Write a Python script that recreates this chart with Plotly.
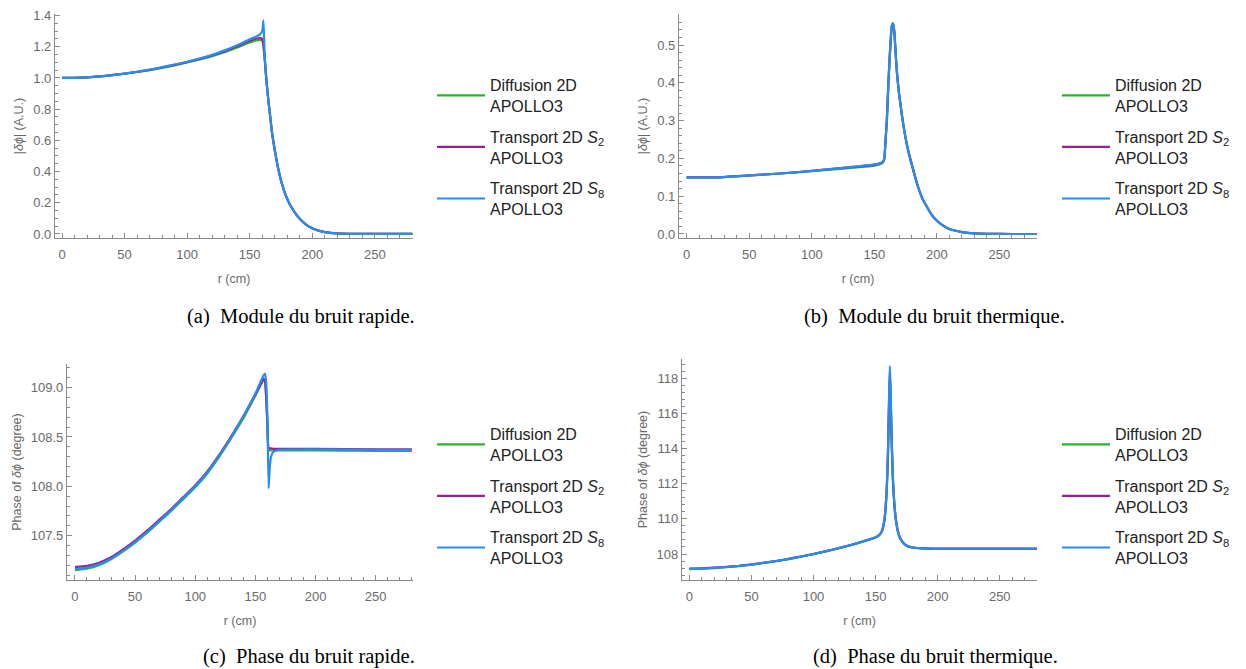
import plotly.graph_objects as go

# ---------------- data ----------------
names = ["Diffusion 2D<br>APOLLO3",
         "Transport 2D <i>S</i><sub>2</sub><br>APOLLO3",
         "Transport 2D <i>S</i><sub>8</sub><br>APOLLO3"]
colors = ["rgb(45,180,45)", "rgb(150,35,150)", "rgb(40,140,240)"]

# (a) fast noise magnitude
r_a = [0, 10, 20, 30, 40, 50, 60, 70, 80, 90, 100, 110, 120, 130, 140, 150, 155, 158, 160,
       161, 162, 163, 164, 165, 166, 168, 170, 172, 174, 176, 178, 180, 182, 185, 190, 195,
       200, 205, 210, 220, 230, 240, 260, 280]
a_diff = [1.0, 1.001, 1.004, 1.01, 1.018, 1.027, 1.038, 1.05, 1.065, 1.081, 1.099, 1.118, 1.14,
          1.165, 1.195, 1.228, 1.240, 1.244, 1.238,
          1.2, 1.12, 1.02, 0.93, 0.85, 0.78, 0.64, 0.54, 0.45, 0.375, 0.315, 0.265, 0.225, 0.19,
          0.15, 0.097, 0.06, 0.036, 0.021, 0.012, 0.004, 0.001, 0.0, 0.0, 0.0]
a_s2 = [1.0, 1.001, 1.004, 1.01, 1.018, 1.028, 1.039, 1.052, 1.067, 1.084, 1.102, 1.122, 1.145,
        1.172, 1.203, 1.238, 1.251, 1.256, 1.252,
        1.21, 1.13, 1.02, 0.93, 0.85, 0.78, 0.64, 0.54, 0.45, 0.375, 0.315, 0.265, 0.225, 0.19,
        0.15, 0.097, 0.06, 0.036, 0.021, 0.012, 0.004, 0.001, 0.0, 0.0, 0.0]
a_s8 = [1.0, 1.001, 1.004, 1.01, 1.018, 1.028, 1.04, 1.053, 1.069, 1.086, 1.104, 1.125, 1.148,
        1.177, 1.21, 1.248, 1.264, 1.278, 1.30,
        1.37, 1.13, 1.02, 0.93, 0.85, 0.78, 0.64, 0.54, 0.45, 0.375, 0.315, 0.265, 0.225, 0.19,
        0.15, 0.097, 0.06, 0.036, 0.021, 0.012, 0.004, 0.001, 0.0, 0.0, 0.0]

# (b) thermal noise magnitude
r_b = [0, 25, 50, 75, 100, 125, 150, 155, 157, 158, 159, 160, 161, 162, 163, 164, 165, 166, 167,
       168, 169, 170, 171, 172, 174, 176, 178, 180, 184, 188, 192, 196, 200, 205, 210, 220, 230,
       240, 260, 280]
b_diff = [0.15, 0.15, 0.155, 0.16, 0.166, 0.173, 0.181, 0.185, 0.19, 0.2, 0.25, 0.3, 0.38, 0.45,
          0.51, 0.548, 0.555, 0.533, 0.48, 0.43, 0.395, 0.365, 0.34, 0.315, 0.272, 0.237, 0.208,
          0.183, 0.135, 0.097, 0.072, 0.05, 0.035, 0.022, 0.013, 0.005, 0.0015, 0.0005, 0.0, 0.0]
b_s2 = [0.15, 0.15, 0.155, 0.16, 0.167, 0.175, 0.183, 0.187, 0.191, 0.2, 0.25, 0.3, 0.38, 0.45,
        0.51, 0.55, 0.557, 0.535, 0.48, 0.43, 0.395, 0.365, 0.34, 0.315, 0.272, 0.237, 0.208,
        0.183, 0.135, 0.097, 0.072, 0.05, 0.035, 0.022, 0.013, 0.005, 0.0015, 0.0005, 0.0, 0.0]
b_s8 = [0.15, 0.15, 0.155, 0.16, 0.167, 0.175, 0.184, 0.188, 0.192, 0.2, 0.25, 0.3, 0.38, 0.45,
        0.51, 0.552, 0.558, 0.536, 0.48, 0.43, 0.395, 0.365, 0.34, 0.315, 0.272, 0.237, 0.208,
        0.183, 0.135, 0.097, 0.072, 0.05, 0.035, 0.022, 0.013, 0.005, 0.0015, 0.0005, 0.0, 0.0]

# (c) fast noise phase
r_c = [0, 10, 20, 30, 40, 50, 60, 70, 80, 90, 100, 110, 120, 130, 140, 150, 155, 157, 158, 159,
       160, 161, 162, 163, 165, 170, 200, 250, 280]
c_diff = [107.15, 107.165, 107.2, 107.26, 107.34, 107.43, 107.53, 107.64, 107.75, 107.87, 107.99,
          108.13, 108.3, 108.49, 108.69, 108.92, 109.04, 109.08, 109.06, 108.88, 108.6, 108.37,
          108.365, 108.365, 108.365, 108.365, 108.365, 108.36, 108.36]
c_s2 = [107.18, 107.193, 107.225, 107.28, 107.36, 107.45, 107.55, 107.66, 107.77, 107.89, 108.01,
        108.15, 108.32, 108.51, 108.71, 108.93, 109.05, 109.09, 109.07, 108.9, 108.62, 108.385,
        108.385, 108.385, 108.38, 108.38, 108.38, 108.375, 108.375]
c_s8 = [107.16, 107.175, 107.21, 107.265, 107.345, 107.435, 107.535, 107.645, 107.76, 107.88,
        108.0, 108.14, 108.31, 108.5, 108.71, 108.94, 109.08, 109.13, 109.14, 109.05, 108.7,
        107.98, 108.2, 108.3, 108.35, 108.37, 108.375, 108.37, 108.37]

# (d) thermal noise phase
r_d = [0, 10, 20, 30, 40, 50, 60, 70, 80, 90, 100, 110, 120, 130, 140, 150, 153, 155, 157, 158,
       159, 160, 161, 161.5, 162, 163, 164, 165, 166, 168, 170, 173, 176, 180, 190, 200, 250, 280]
d_diff = [107.14, 107.16, 107.2, 107.25, 107.31, 107.39, 107.49, 107.59, 107.71, 107.85, 107.99,
          108.15, 108.32, 108.5, 108.71, 108.94, 109.08, 109.28, 109.85, 110.5, 111.6, 113.6,
          116.9, 118.0, 117.0, 114.2, 112.1, 110.9, 110.1, 109.25, 108.85, 108.57, 108.43,
          108.36, 108.31, 108.3, 108.3, 108.3]
d_s2 = [107.17, 107.18, 107.22, 107.27, 107.33, 107.41, 107.5, 107.6, 107.72, 107.86, 108.0,
        108.16, 108.33, 108.51, 108.72, 108.95, 109.09, 109.29, 109.87, 110.55, 111.7, 113.8,
        117.2, 118.3, 117.3, 114.4, 112.2, 110.95, 110.15, 109.28, 108.87, 108.58, 108.44,
        108.37, 108.32, 108.31, 108.31, 108.31]
d_s8 = [107.15, 107.17, 107.21, 107.26, 107.32, 107.4, 107.5, 107.6, 107.72, 107.86, 108.0,
        108.16, 108.33, 108.51, 108.72, 108.95, 109.1, 109.3, 109.9, 110.6, 111.8, 114.0,
        117.5, 118.7, 117.6, 114.5, 112.3, 111.0, 110.2, 109.3, 108.9, 108.6, 108.45,
        108.37, 108.32, 108.3, 108.3, 108.3]

captions = ["(a)  Module du bruit rapide.", "(b)  Module du bruit thermique.",
            "(c)  Phase du bruit rapide.", "(d)  Phase du bruit thermique."]
ytitles = ["|<i>δϕ</i>| (A.U.)", "|<i>δϕ</i>| (A.U.)",
           "Phase of <i>δϕ</i> (degree)", "Phase of <i>δϕ</i> (degree)"]

# ---------------- figure ----------------
W, H = 1246, 669
fig = go.Figure()

panels = [
    dict(r=r_a, ys=[a_diff, a_s2, a_s8]),
    dict(r=r_b, ys=[b_diff, b_s2, b_s8]),
    dict(r=r_c, ys=[c_diff, c_s2, c_s8]),
    dict(r=r_d, ys=[d_diff, d_s2, d_s8]),
]
# layout geometry (pixels)
geo = [
    dict(x0=55, x1=413, y0=14, y1=238, xr=[-5.6, 280.5], yr=[-0.026, 1.41], dy=0.2, my=0.05, fmt=".1f"),
    dict(x0=679, x1=1037, y0=14, y1=238, xr=[-6.1, 280], yr=[-0.0106, 0.582], dy=0.1, my=0.02, fmt=".1f"),
    dict(x0=67, x1=413, y0=364, y1=580, xr=[-6.6, 281], yr=[107.05, 109.24], dy=0.5, my=0.1, fmt=".1f"),
    dict(x0=682, x1=1037, y0=359, y1=580, xr=[-5.9, 280], yr=[106.52, 119.1], dy=2, my=0.4, fmt="d"),
]
legpos = [(432, 68), (1057, 68), (432, 417), (1057, 417)]
cappos = [(301, 316), (934, 316), (309, 656), (935, 656)]

axcol = "#8a8a8a"
tickfont = dict(family="Liberation Sans, Arial", size=13, color="#6a6a6a")
titlefont = dict(family="Liberation Sans, Arial", size=12.5, color="#6a6a6a")

for i, (p, g) in enumerate(zip(panels, geo)):
    k = "" if i == 0 else str(i + 1)
    leg = "legend" + k
    for j in range(3):
        fig.add_trace(go.Scatter(
            x=p["r"], y=p["ys"][j], mode="lines", name=names[j],
            line=dict(color=colors[j], width=2.2, shape="spline", smoothing=0.5),
            xaxis="x" + k, yaxis="y" + k, legend=leg, legendgroup=f"g{i}{j}",
        ))
    xa = dict(domain=[g["x0"] / W, g["x1"] / W], range=g["xr"], anchor="y" + k,
              automargin=False,
              showline=True, linecolor=axcol, linewidth=1.2, showgrid=False, zeroline=False,
              ticks="inside", ticklen=5, tickcolor=axcol, tickwidth=1,
              tick0=0, dtick=50, tickfont=tickfont, ticklabelstandoff=4,
              minor=dict(ticks="inside", ticklen=3, tickcolor=axcol, dtick=10, tick0=0, showgrid=False),
              title=dict(text="r (cm)", font=titlefont, standoff=13))
    ya = dict(domain=[1 - g["y1"] / H, 1 - g["y0"] / H], range=g["yr"], anchor="x" + k,
              automargin=False,
              showline=True, linecolor=axcol, linewidth=1.2, showgrid=False, zeroline=False,
              ticks="inside", ticklen=5, tickcolor=axcol, tickwidth=1,
              tick0=0, dtick=g["dy"], tickformat=g["fmt"], tickfont=tickfont,
              minor=dict(ticks="inside", ticklen=3, tickcolor=axcol, dtick=g["my"], tick0=0, showgrid=False),
              title=dict(text=ytitles[i], font=titlefont, standoff=6))
    fig.layout["xaxis" + k] = xa
    fig.layout["yaxis" + k] = ya
    lx, ly = legpos[i]
    fig.layout[leg] = dict(x=lx / W, y=1 - ly / H, xanchor="left", yanchor="top",
                           font=dict(family="Liberation Sans, Arial", size=16, color="#222222"),
                           tracegroupgap=7, bgcolor="rgba(0,0,0,0)", valign="middle",
                           itemwidth=48)
    cx, cy = cappos[i]
    fig.add_annotation(x=cx / W, y=1 - cy / H, xref="paper", yref="paper",
                       text=captions[i], showarrow=False, xanchor="center", yanchor="middle",
                       font=dict(family="Liberation Serif, Times New Roman", size=20.5, color="black"))

fig.update_layout(width=W, height=H, margin=dict(l=0, r=0, t=0, b=0),
                  paper_bgcolor="white", plot_bgcolor="white", showlegend=True)
fig.write_html("out.html", config={"displayModeBar": False},
               post_script="document.body.style.margin='0px';document.body.style.overflow='hidden';")
